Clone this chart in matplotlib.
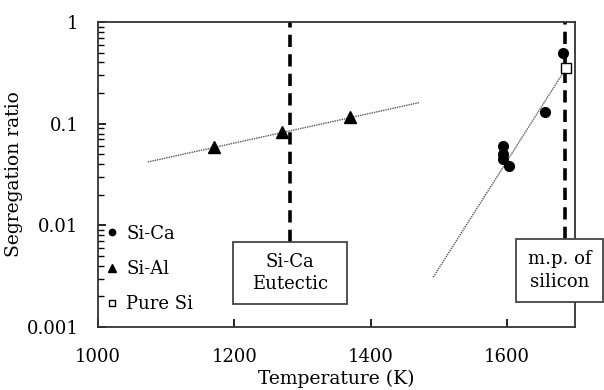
import numpy as np
import matplotlib
matplotlib.use("Agg")
import matplotlib.pyplot as plt
from matplotlib.patches import Rectangle

# data
ca_T = [1594, 1594, 1594, 1603, 1656, 1682]
ca_k = [0.060, 0.050, 0.045, 0.038, 0.130, 0.495]
al_T = [1170, 1270, 1370]
al_k = [0.059, 0.083, 0.116]
si_T = [1687]
si_k = [0.353]

# trend lines (end points)
al_fit_T = [1073, 1471]
al_fit_k = [0.042, 0.161]
ca_fit_T = [1492, 1687]
ca_fit_k = [0.0031, 0.353]

eutectic_T = 1282
melting_T = 1685

plt.rcParams['font.family'] = ['DejaVu Serif']
plt.rcParams['font.size'] = 13

fig = plt.figure(figsize=(6.04, 3.9), dpi=100)
ax = fig.add_axes([0.1623, 0.1615, 0.7897, 0.7821])

# annotation boxes (axes fraction): x0, y0, w, h
eut_box = (0.283, 0.075, 0.239, 0.204)
mp_box = (0.876, 0.082, 0.183, 0.207)

dash = dict(color='black', lw=2.6, linestyle=(0, (3.4, 2.0)), zorder=1)
ax.axvline(eutectic_T, ymin=eut_box[1] + eut_box[3], **dash)
ax.axvline(melting_T, ymin=mp_box[1] + mp_box[3], **dash)

ax.plot(al_fit_T, al_fit_k, color='#555555', lw=1.0, linestyle=(0, (1, 0.7)), zorder=2)
ax.plot(ca_fit_T, ca_fit_k, color='#555555', lw=1.0, linestyle=(0, (1, 0.7)), zorder=2)

ax.plot(ca_T, ca_k, 'o', color='black', ms=7, label='Si-Ca', zorder=3)
ax.plot(al_T, al_k, '^', color='black', ms=8, label='Si-Al', zorder=3)
ax.plot(si_T, si_k, 's', mfc='white', mec='black', mew=1.0, ms=7, label='Pure Si', zorder=4)

ax.set_yscale('log')
ax.set_xlim(1000, 1700)
ax.set_ylim(0.001, 1)
ax.set_xticks([1000, 1200, 1400, 1600])
ax.set_yticks([0.001, 0.01, 0.1, 1])
ax.set_yticklabels(['0.001', '0.01', '0.1', '1'])
ax.tick_params(which='major', direction='in', length=6, width=1.2)
ax.tick_params(which='minor', direction='in', length=4, width=1.0)
ax.tick_params(axis='y', which='major', pad=14)
ax.tick_params(axis='x', which='major', pad=15)

for s in ax.spines.values():
    s.set_color('#333333')
    s.set_linewidth(1.3)

ax.set_xlabel('Temperature (K)', fontsize=13.5, labelpad=3)
ax.set_ylabel('Segregation ratio', fontsize=13.5, labelpad=3)

ax.legend(loc='upper left', bbox_to_anchor=(0.0, 0.365), frameon=False,
          handlelength=0.6, handletextpad=0.45, labelspacing=0.95,
          markerscale=0.65, borderpad=0.2, borderaxespad=0.3)

for (x0, y0, w, h) in [eut_box, mp_box]:
    ax.add_patch(Rectangle((x0, y0), w, h, transform=ax.transAxes, fc='white',
                           ec='#444444', lw=1.3, zorder=5, clip_on=False))
ax.text(0.4025, 0.177, 'Si-Ca\nEutectic', transform=ax.transAxes, ha='center',
        va='center', zorder=6, linespacing=1.35)
ax.text(0.9675, 0.185, 'm.p. of\nsilicon', transform=ax.transAxes, ha='center',
        va='center', zorder=6, linespacing=1.35)

fig.savefig('out.png', dpi=100)
